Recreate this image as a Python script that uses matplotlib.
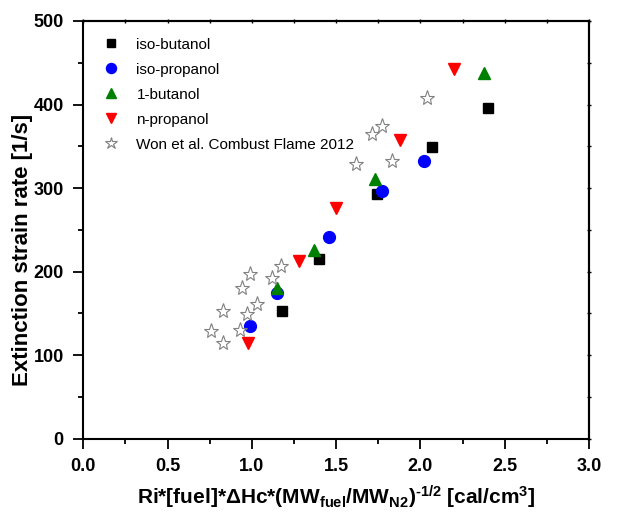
import numpy as np
import matplotlib
matplotlib.use('Agg')
import matplotlib.pyplot as plt
from matplotlib.ticker import MultipleLocator

plt.rcParams['font.family'] = ['Liberation Sans', 'DejaVu Sans']
plt.rcParams['mathtext.fontset'] = 'custom'
plt.rcParams['mathtext.rm'] = 'Liberation Sans:bold'
plt.rcParams['mathtext.default'] = 'rm'

# data
ibu_x = [1.18, 1.40, 1.74, 2.07, 2.40]
ibu_y = [153, 215, 293, 349, 396]
ipr_x = [0.99, 1.15, 1.46, 1.77, 2.02]
ipr_y = [135, 174, 242, 296, 332]
nbu_x = [1.15, 1.37, 1.73, 2.38]
nbu_y = [181, 226, 311, 438]
npr_x = [0.98, 1.28, 1.50, 1.88, 2.20]
npr_y = [115, 213, 276, 358, 443]
won_x = [0.76, 0.83, 0.83, 0.93, 0.94, 0.97, 0.99, 1.03, 1.12, 1.17,
         1.62, 1.71, 1.77, 1.83, 2.04]
won_y = [129, 115, 153, 130, 181, 149, 197, 161, 192, 207,
         329, 365, 374, 332, 408]

fig = plt.figure(figsize=(6.17, 5.12), dpi=100)
ax = fig.add_axes([0.135, 0.143, 0.8196, 0.816])

ax.plot(ibu_x, ibu_y, 's', color='black', ms=7.5, ls='none', label='iso-butanol')
ax.plot(ipr_x, ipr_y, 'o', color='blue', ms=8.5, ls='none', label='iso-propanol')
ax.plot(nbu_x, nbu_y, '^', color='green', ms=9, ls='none', label='1-butanol')
ax.plot(npr_x, npr_y, 'v', color='red', ms=9, ls='none', label='n-propanol')
ax.plot(won_x, won_y, '*', mfc='none', mec='gray', mew=0.8, ms=11, ls='none',
        label='Won et al. Combust Flame 2012')

ax.set_xlim(0, 3.0)
ax.set_ylim(0, 500)
ax.xaxis.set_major_locator(MultipleLocator(0.5))
ax.xaxis.set_minor_locator(MultipleLocator(0.25))
ax.yaxis.set_major_locator(MultipleLocator(100))
ax.yaxis.set_minor_locator(MultipleLocator(50))
ax.tick_params(which='both', direction='out', width=1.3)
ax.tick_params(which='major', length=7, labelsize=13, pad=7)
ax.tick_params(which='minor', length=3.5)
for lab in ax.get_xticklabels() + ax.get_yticklabels():
    lab.set_fontweight('bold')
for s in ax.spines.values():
    s.set_linewidth(1.5)

# small crossing ticks on top and right
top = ax.secondary_xaxis('top')
top.xaxis.set_major_locator(MultipleLocator(0.25))
top.tick_params(direction='inout', length=3, width=1.0, labeltop=False)
right = ax.secondary_yaxis('right')
right.yaxis.set_major_locator(MultipleLocator(50))
right.tick_params(direction='inout', length=3, width=1.0, labelright=False)
top.spines['top'].set_linewidth(1.5)
right.spines['right'].set_linewidth(1.5)

ax.set_ylabel('Extinction strain rate [1/s]', fontsize=16, fontweight='bold')
ax.yaxis.set_label_coords(-0.1, 0.452)
ax.set_xlabel('Ri*[fuel]*\u0394Hc*(MW$_{fuel}$/MW$_{N2}$)$^{\u20101/2}$ [cal/cm$^{3}$]',
              fontsize=15, fontweight='bold', labelpad=6)

ax.legend(loc='upper left', bbox_to_anchor=(0.01, 0.995), frameon=False, fontsize=11,
          handlelength=1.0, handletextpad=1.2, labelspacing=0.72, borderaxespad=0.55,
          markerscale=0.85)

fig.savefig('out.png', dpi=100)
